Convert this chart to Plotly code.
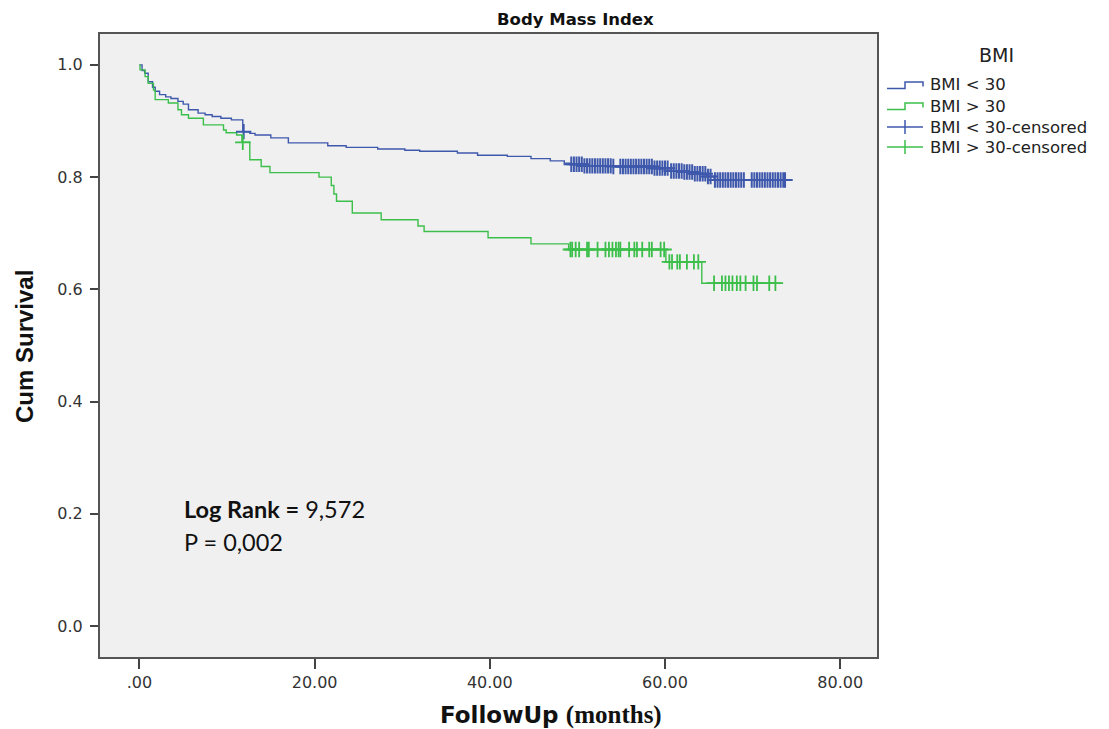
import plotly.graph_objects as go

# ---- data ----
blue_t = [0, 0.3, 0.6, 1.0, 1.5, 1.8, 2.3, 3.0, 3.6, 4.4, 5.0, 5.6, 6.7, 7.5, 8.3, 9.3, 10.5,
          11.8, 12.6, 13.2, 15.0, 17.0, 21.5, 23.6, 27.2, 30.3, 32.0, 36.3, 38.6, 42.0, 44.7,
          46.9, 48.5, 49.2, 50.8, 54.0, 58.7, 60.6, 62.0, 63.3, 64.8, 65.6, 74.3]
blue_s = [1.0, 0.99, 0.985, 0.97, 0.96, 0.953, 0.947, 0.943, 0.94, 0.935, 0.93, 0.92, 0.914,
          0.911, 0.908, 0.905, 0.902, 0.881, 0.878, 0.875, 0.870, 0.861, 0.856, 0.853, 0.850,
          0.848, 0.846, 0.843, 0.839, 0.837, 0.833, 0.829, 0.825, 0.823, 0.820, 0.819, 0.816,
          0.811, 0.809, 0.806, 0.801, 0.795, 0.795]
blue_cens = [11.9, 49.3, 49.6, 49.9, 50.2, 50.5, 50.8, 51.1, 51.4, 51.7, 52.0, 52.3, 52.6, 52.9,
             53.2, 53.5, 53.8, 54.1, 54.9, 55.2, 55.5, 55.8, 56.1, 56.4, 56.7, 57.0, 57.3, 57.6,
             57.9, 58.2, 58.5, 58.8, 59.1, 59.4, 59.7, 60.0, 60.3, 60.7, 61.0, 61.3, 61.6, 61.9,
             62.2, 62.5, 62.8, 63.1, 63.4, 63.7, 64.0, 64.3, 64.6, 64.9, 65.2, 65.7, 66.0, 66.3,
             66.6, 66.9, 67.2, 67.5, 67.8, 68.1, 68.4, 68.7, 69.0, 69.9, 70.2, 70.5, 70.8, 71.1,
             71.4, 71.7, 72.0, 72.3, 72.6, 72.9, 73.2, 73.5, 73.7]

green_t = [0, 0.07, 0.65, 1.0, 1.6, 1.8, 3.3, 4.4, 4.8, 5.6, 7.3, 9.6, 9.9, 11.1, 11.7, 12.6,
           13.9, 14.9, 20.5, 21.9, 22.2, 22.5, 24.3, 27.6, 31.8, 32.5, 39.8, 44.7, 49.0, 60.1,
           64.2, 73.3]
green_s = [1.0, 0.991, 0.979, 0.967, 0.955, 0.938, 0.932, 0.92, 0.911, 0.905, 0.893, 0.884,
           0.879, 0.875, 0.862, 0.831, 0.819, 0.808, 0.800, 0.785, 0.770, 0.757, 0.736, 0.724,
           0.713, 0.703, 0.692, 0.681, 0.671, 0.649, 0.611, 0.611]
green_cens = [11.8, 49.2, 49.4, 49.8, 50.2, 51.1, 51.3, 52.3, 53.2, 53.6, 54.0, 54.4, 54.7, 54.9,
              55.9, 56.5, 56.8, 57.4, 58.2, 58.5, 59.5, 59.9, 60.5, 60.8, 61.4, 61.7, 62.5,
              63.3, 63.8, 65.6, 66.5, 66.9, 67.3, 67.7, 68.2, 68.6, 69.2, 70.1, 70.5, 71.9, 72.6]

series_names = ["BMI < 30", "BMI > 30", "BMI < 30-censored", "BMI > 30-censored"]
legend_title = "BMI"
x_ticks = [0, 20, 40, 60, 80]
x_ticktext = [".00", "20.00", "40.00", "60.00", "80.00"]
y_ticks = [0.0, 0.2, 0.4, 0.6, 0.8, 1.0]
y_ticktext = ["0.0", "0.2", "0.4", "0.6", "0.8", "1.0"]

BLUE = "#3e58ac"
GREEN = "#3cbf4a"

W, H = 1109, 729
ML, MR, MT, MB = 100, 232, 34, 72
PW, PH = W - ML - MR, H - MT - MB


def px(x):
    return (x - ML) / PW


def py(y):
    return (H - MB - y) / PH


def surv_at(times, surv, t):
    val = surv[0]
    for ti, si in zip(times, surv):
        if ti <= t:
            val = si
        else:
            break
    return val


fig = go.Figure()

fig.add_trace(go.Scatter(x=blue_t, y=blue_s, mode="lines", line_shape="hv",
                         line=dict(color=BLUE, width=1.4), name=series_names[0]))
fig.add_trace(go.Scatter(x=green_t, y=green_s, mode="lines", line_shape="hv",
                         line=dict(color=GREEN, width=1.4), name=series_names[1]))
fig.add_trace(go.Scatter(x=blue_cens, y=[surv_at(blue_t, blue_s, t) for t in blue_cens],
                         mode="markers", name=series_names[2],
                         marker=dict(symbol="cross-thin", size=11,
                                     line=dict(color=BLUE, width=2))))
fig.add_trace(go.Scatter(x=green_cens, y=[surv_at(green_t, green_s, t) for t in green_cens],
                         mode="markers", name=series_names[3],
                         marker=dict(symbol="cross-thin", size=11,
                                     line=dict(color=GREEN, width=1.8))))

fig.update_layout(
    width=W, height=H,
    margin=dict(l=ML, r=MR, t=MT, b=MB),
    paper_bgcolor="white",
    plot_bgcolor="#f0f0f0",
    font=dict(family="DejaVu Sans", color="#222"),
    showlegend=False,
    xaxis=dict(range=[-4.5, 84.2], tickvals=x_ticks, ticktext=x_ticktext,
               showgrid=False, zeroline=False, showline=True, mirror=True,
               linecolor="#555", linewidth=2, ticks="outside", ticklen=10, tickwidth=2,
               tickcolor="#444", tickfont=dict(size=16, color="#333", family="DejaVu Sans")),
    yaxis=dict(range=[-0.055, 1.055], tickvals=y_ticks, ticktext=y_ticktext,
               showgrid=False, zeroline=False, showline=True, mirror=True,
               linecolor="#555", linewidth=2, ticks="outside", ticklen=8, tickwidth=2,
               ticklabelstandoff=4,
               tickcolor="#444", tickfont=dict(size=16, color="#333", family="DejaVu Sans")),
)

# ---- manual legend (step icons like the reference) ----
fig.add_annotation(text=legend_title, xref="paper", yref="paper", x=px(996), y=py(55),
                   xanchor="center", yanchor="middle", showarrow=False,
                   font=dict(size=19, color="#222", family="DejaVu Sans"))
row_y = [85, 106, 127, 147]
colors = [BLUE, GREEN, BLUE, GREEN]
for i, (name, col, ry) in enumerate(zip(series_names, colors, row_y)):
    fig.add_annotation(text=name, xref="paper", yref="paper", x=px(928), y=py(ry),
                       xanchor="left", yanchor="middle", showarrow=False,
                       font=dict(size=16.5, color="#222", family="DejaVu Sans"))
    if i < 2:
        path = (f"M {px(887)},{py(ry + 3.5)} L {px(905)},{py(ry + 3.5)} "
                f"L {px(905)},{py(ry - 3)} L {px(923)},{py(ry - 3)} L {px(923)},{py(ry + 1.5)}")
        fig.add_shape(type="path", path=path, xref="paper", yref="paper",
                      line=dict(color=col, width=1.5))
    else:
        fig.add_shape(type="line", xref="paper", yref="paper", x0=px(887), x1=px(923),
                      y0=py(ry), y1=py(ry), line=dict(color=col, width=1.5))
        fig.add_shape(type="line", xref="paper", yref="paper", x0=px(905), x1=px(905),
                      y0=py(ry - 7), y1=py(ry + 7), line=dict(color=col, width=1.5))

# Title
fig.add_annotation(text="<b>Body Mass Index</b>", xref="paper", yref="paper",
                   x=px(575), y=py(19), xanchor="center", yanchor="middle",
                   showarrow=False, font=dict(size=16.5, color="#111", family="DejaVu Sans"))
# Y title
fig.add_annotation(text="<b>Cum Survival</b>", xref="paper", yref="paper",
                   x=px(25), y=py(347), textangle=-90, xanchor="center", yanchor="middle",
                   showarrow=False,
                   font=dict(size=24, color="#111", family="Liberation Sans Narrow, Liberation Sans"))
# X title
fig.add_annotation(text="<b>FollowUp</b> <span style='font-family:Liberation Serif;font-size:25px'><b>(months)</b></span>",
                   xref="paper", yref="paper", x=px(551), y=py(715),
                   xanchor="center", yanchor="middle", showarrow=False,
                   font=dict(size=23, color="#111", family="DejaVu Sans"))
# Log-rank text
fig.add_annotation(text="<b>Log Rank =</b> 9,572", xref="paper", yref="paper",
                   x=px(182), y=py(509), xanchor="left", yanchor="middle", showarrow=False,
                   font=dict(size=23.5, color="#111", family="Lato, Liberation Sans"))
fig.add_annotation(text="P = 0,002", xref="paper", yref="paper",
                   x=px(182), y=py(542), xanchor="left", yanchor="middle", showarrow=False,
                   font=dict(size=23.5, color="#111", family="Lato, Liberation Sans"))

fig.write_html("out.html")
